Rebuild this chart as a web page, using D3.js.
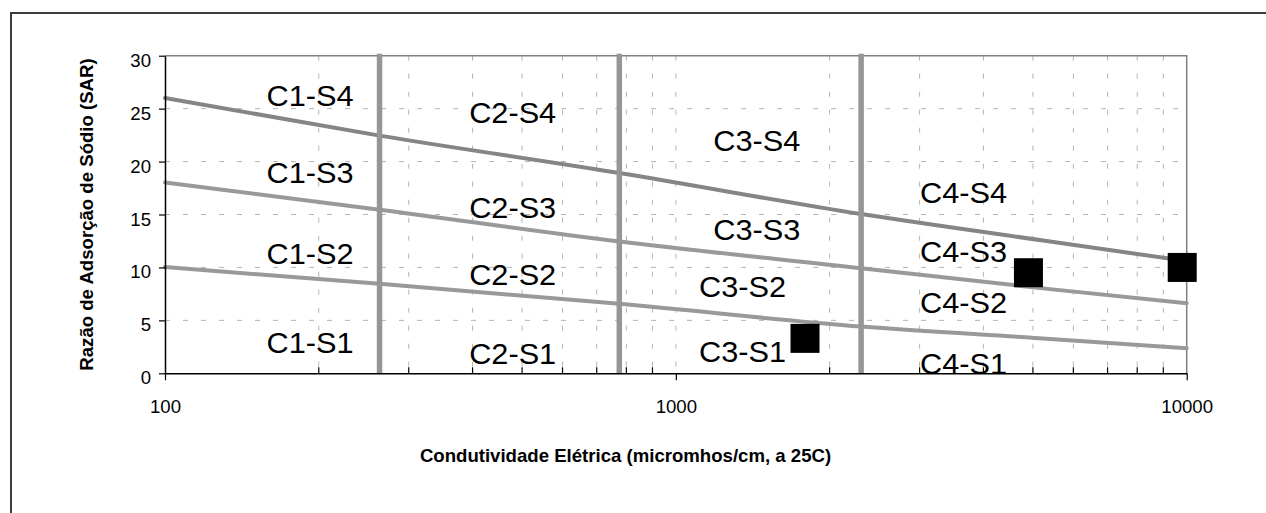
<!DOCTYPE html>
<html>
<head>
<meta charset="utf-8">
<script src="https://cdn.jsdelivr.net/npm/d3@7"></script>
<style>
  body { margin: 0; background: #fff; }
  svg { display: block; font-family: "Liberation Sans", Arial, sans-serif; }
</style>
</head>
<body>
<svg id="chart" width="1266" height="513"></svg>
<script>
// Electrical conductivity (EC, micromhos/cm) axis
const xTicks = [100, 1000, 10000];
const xTickLabels = ["100", "1000", "10000"];
const minorEC = [200, 300, 400, 500, 600, 700, 800, 900, 2000, 3000, 4000, 5000, 6000, 7000, 8000, 9000];

// Sodium adsorption ratio (SAR) axis
const yTicks = [0, 5, 10, 15, 20, 25, 30];
const yGrid = [5, 10, 15, 20, 25];

// Salinity class limits C1|C2, C2|C3, C3|C4
const classLimitsEC = [263, 775, 2305];

// Sodicity class boundaries, sampled along EC
const curveEC = [100, 263, 775, 2305, 5400, 10000];
const sarS3S4 = [26.0, 22.45, 18.92, 15.04, 12.45, 10.6];
const sarS2S3 = [18.03, 15.45, 12.45, 9.93, 7.95, 6.62];
const sarS1S2 = [10.03, 8.45, 6.56, 4.41, 3.25, 2.36];

// Water samples
const sampleEC = [1790, 4900, 9800];
const sampleSAR = [3.3, 9.5, 10.0];

// Class labels, anchored at their left baseline (EC, SAR)
const classLabels = ["C1-S4", "C1-S3", "C1-S2", "C1-S1",
                     "C2-S4", "C2-S3", "C2-S2", "C2-S1",
                     "C3-S4", "C3-S3", "C3-S2", "C3-S1",
                     "C4-S4", "C4-S3", "C4-S2", "C4-S1"];
const labelEC = [158, 158, 158, 158,
                 394, 394, 394, 394,
                 1184, 1184, 1110, 1110,
                 3006, 3006, 3006, 3006];
const labelSAR = [25.25, 17.97, 10.32, 1.92,
                  23.6, 14.64, 8.34, 0.88,
                  21.0, 12.59, 7.18, 1.1,
                  16.11, 10.54, 5.72, -0.1];

const xTitle = "Condutividade Elétrica (micromhos/cm, a 25C)";
const yTitle = "Razão de Adsorção de Sódio (SAR)";

const svg = d3.select("#chart");

const plotLeft = 165, plotRight = 1186.7, plotTop = 55.7, plotBottom = 373.3;
const x = d3.scaleLog().domain([100, 10000]).range([plotLeft, plotRight]);
const y = d3.scaleLinear().domain([0, 30]).range([plotBottom, plotTop]);

// Outer frame
svg.append("rect")
  .attr("x", 11).attr("y", 13)
  .attr("width", 1400).attr("height", 700)
  .attr("fill", "none").attr("stroke", "#3c3c3c").attr("stroke-width", 2);

svg.append("clipPath").attr("id", "plot-clip")
  .append("rect")
  .attr("x", plotLeft).attr("y", plotTop)
  .attr("width", plotRight - plotLeft).attr("height", plotBottom - plotTop);

// Dashed grid
const grid = svg.append("g")
  .attr("stroke", "#b4b4b4").attr("stroke-width", 1)
  .attr("stroke-dasharray", "5,13");
grid.selectAll("line.h").data(yGrid).join("line").attr("class", "h")
  .attr("x1", plotLeft).attr("x2", plotRight)
  .attr("y1", d => y(d)).attr("y2", d => y(d));
grid.selectAll("line.v").data(minorEC.concat([1000])).join("line").attr("class", "v")
  .attr("x1", d => x(d)).attr("x2", d => x(d))
  .attr("y1", plotTop).attr("y2", plotBottom);

// Plot area border (top, right)
svg.append("path")
  .attr("d", `M${plotLeft},${plotTop}H${plotRight}V${plotBottom}`)
  .attr("fill", "none").attr("stroke", "#808080").attr("stroke-width", 1.5);

// Sodicity boundaries
const line = d3.line()
  .x(d => x(d[0])).y(d => y(d[1]))
  .curve(d3.curveMonotoneX);
const curves = [
  { values: sarS1S2, color: "#999999" },
  { values: sarS2S3, color: "#999999" },
  { values: sarS3S4, color: "#858585" }
];
svg.append("g").selectAll("path").data(curves).join("path")
  .attr("d", c => line(curveEC.map((e, i) => [e, c.values[i]])))
  .attr("fill", "none")
  .attr("stroke", c => c.color)
  .attr("stroke-width", 4)
  .attr("stroke-linecap", "round");

// Salinity class limits
svg.append("g").selectAll("line").data(classLimitsEC).join("line")
  .attr("x1", d => x(d)).attr("x2", d => x(d))
  .attr("y1", y(0)).attr("y2", y(30) - 2)
  .attr("stroke", "#969696").attr("stroke-width", 5.5);

// Class labels
svg.append("g").attr("clip-path", "url(#plot-clip)")
  .selectAll("text").data(classLabels).join("text")
  .attr("x", (d, i) => x(labelEC[i]))
  .attr("y", (d, i) => y(labelSAR[i]))
  .attr("font-size", 30)
  .attr("textLength", 87)
  .attr("lengthAdjust", "spacingAndGlyphs")
  .attr("fill", "#000")
  .text(d => d);

// Samples
const sq = 29;
svg.append("g").selectAll("rect").data(sampleEC).join("rect")
  .attr("x", d => x(d) - sq / 2)
  .attr("y", (d, i) => y(sampleSAR[i]) - sq / 2)
  .attr("width", sq).attr("height", sq)
  .attr("fill", "#000");

// Y axis
const yAxis = svg.append("g")
  .attr("transform", `translate(${plotLeft},0)`)
  .call(d3.axisLeft(y).tickValues(yTicks).tickSize(6).tickSizeOuter(0).tickFormat(d3.format("d")));
yAxis.select(".domain").attr("stroke", "#000").attr("stroke-width", 1.5);
yAxis.selectAll(".tick line").attr("stroke", "#000").attr("stroke-width", 1.2);
yAxis.selectAll(".tick text")
  .attr("x", -14).attr("dy", null).attr("y", 10.5)
  .attr("font-size", 18.6).attr("fill", "#000");
yAxis.attr("font-family", null).attr("font-size", null);

// X axis
const xAxis = svg.append("g")
  .attr("transform", `translate(0,${plotBottom})`)
  .call(d3.axisBottom(x).tickValues(xTicks).tickSize(7).tickSizeOuter(0)
    .tickFormat((d, i) => xTickLabels[i]));
xAxis.select(".domain").attr("stroke", "#000").attr("stroke-width", 1.5);
xAxis.selectAll(".tick line").attr("stroke", "#000").attr("stroke-width", 1.2);
xAxis.selectAll(".tick text")
  .attr("dy", null).attr("y", 39.7)
  .attr("font-size", 18.6).attr("fill", "#000");
xAxis.attr("font-family", null).attr("font-size", null);
xAxis.selectAll("line.minor").data(minorEC).join("line").attr("class", "minor")
  .attr("x1", d => x(d)).attr("x2", d => x(d))
  .attr("y1", 0).attr("y2", -6)
  .attr("stroke", "#000").attr("stroke-width", 1.2);

// Axis titles
svg.append("text")
  .attr("x", 625.5).attr("y", 461.7)
  .attr("text-anchor", "middle")
  .attr("font-size", 18.6).attr("font-weight", "bold")
  .text(xTitle);

svg.append("text")
  .attr("transform", `translate(93,${(plotTop + plotBottom) / 2}) rotate(-90)`)
  .attr("text-anchor", "middle")
  .attr("font-size", 18.6).attr("font-weight", "bold")
  .text(yTitle);
</script>
</body>
</html>
